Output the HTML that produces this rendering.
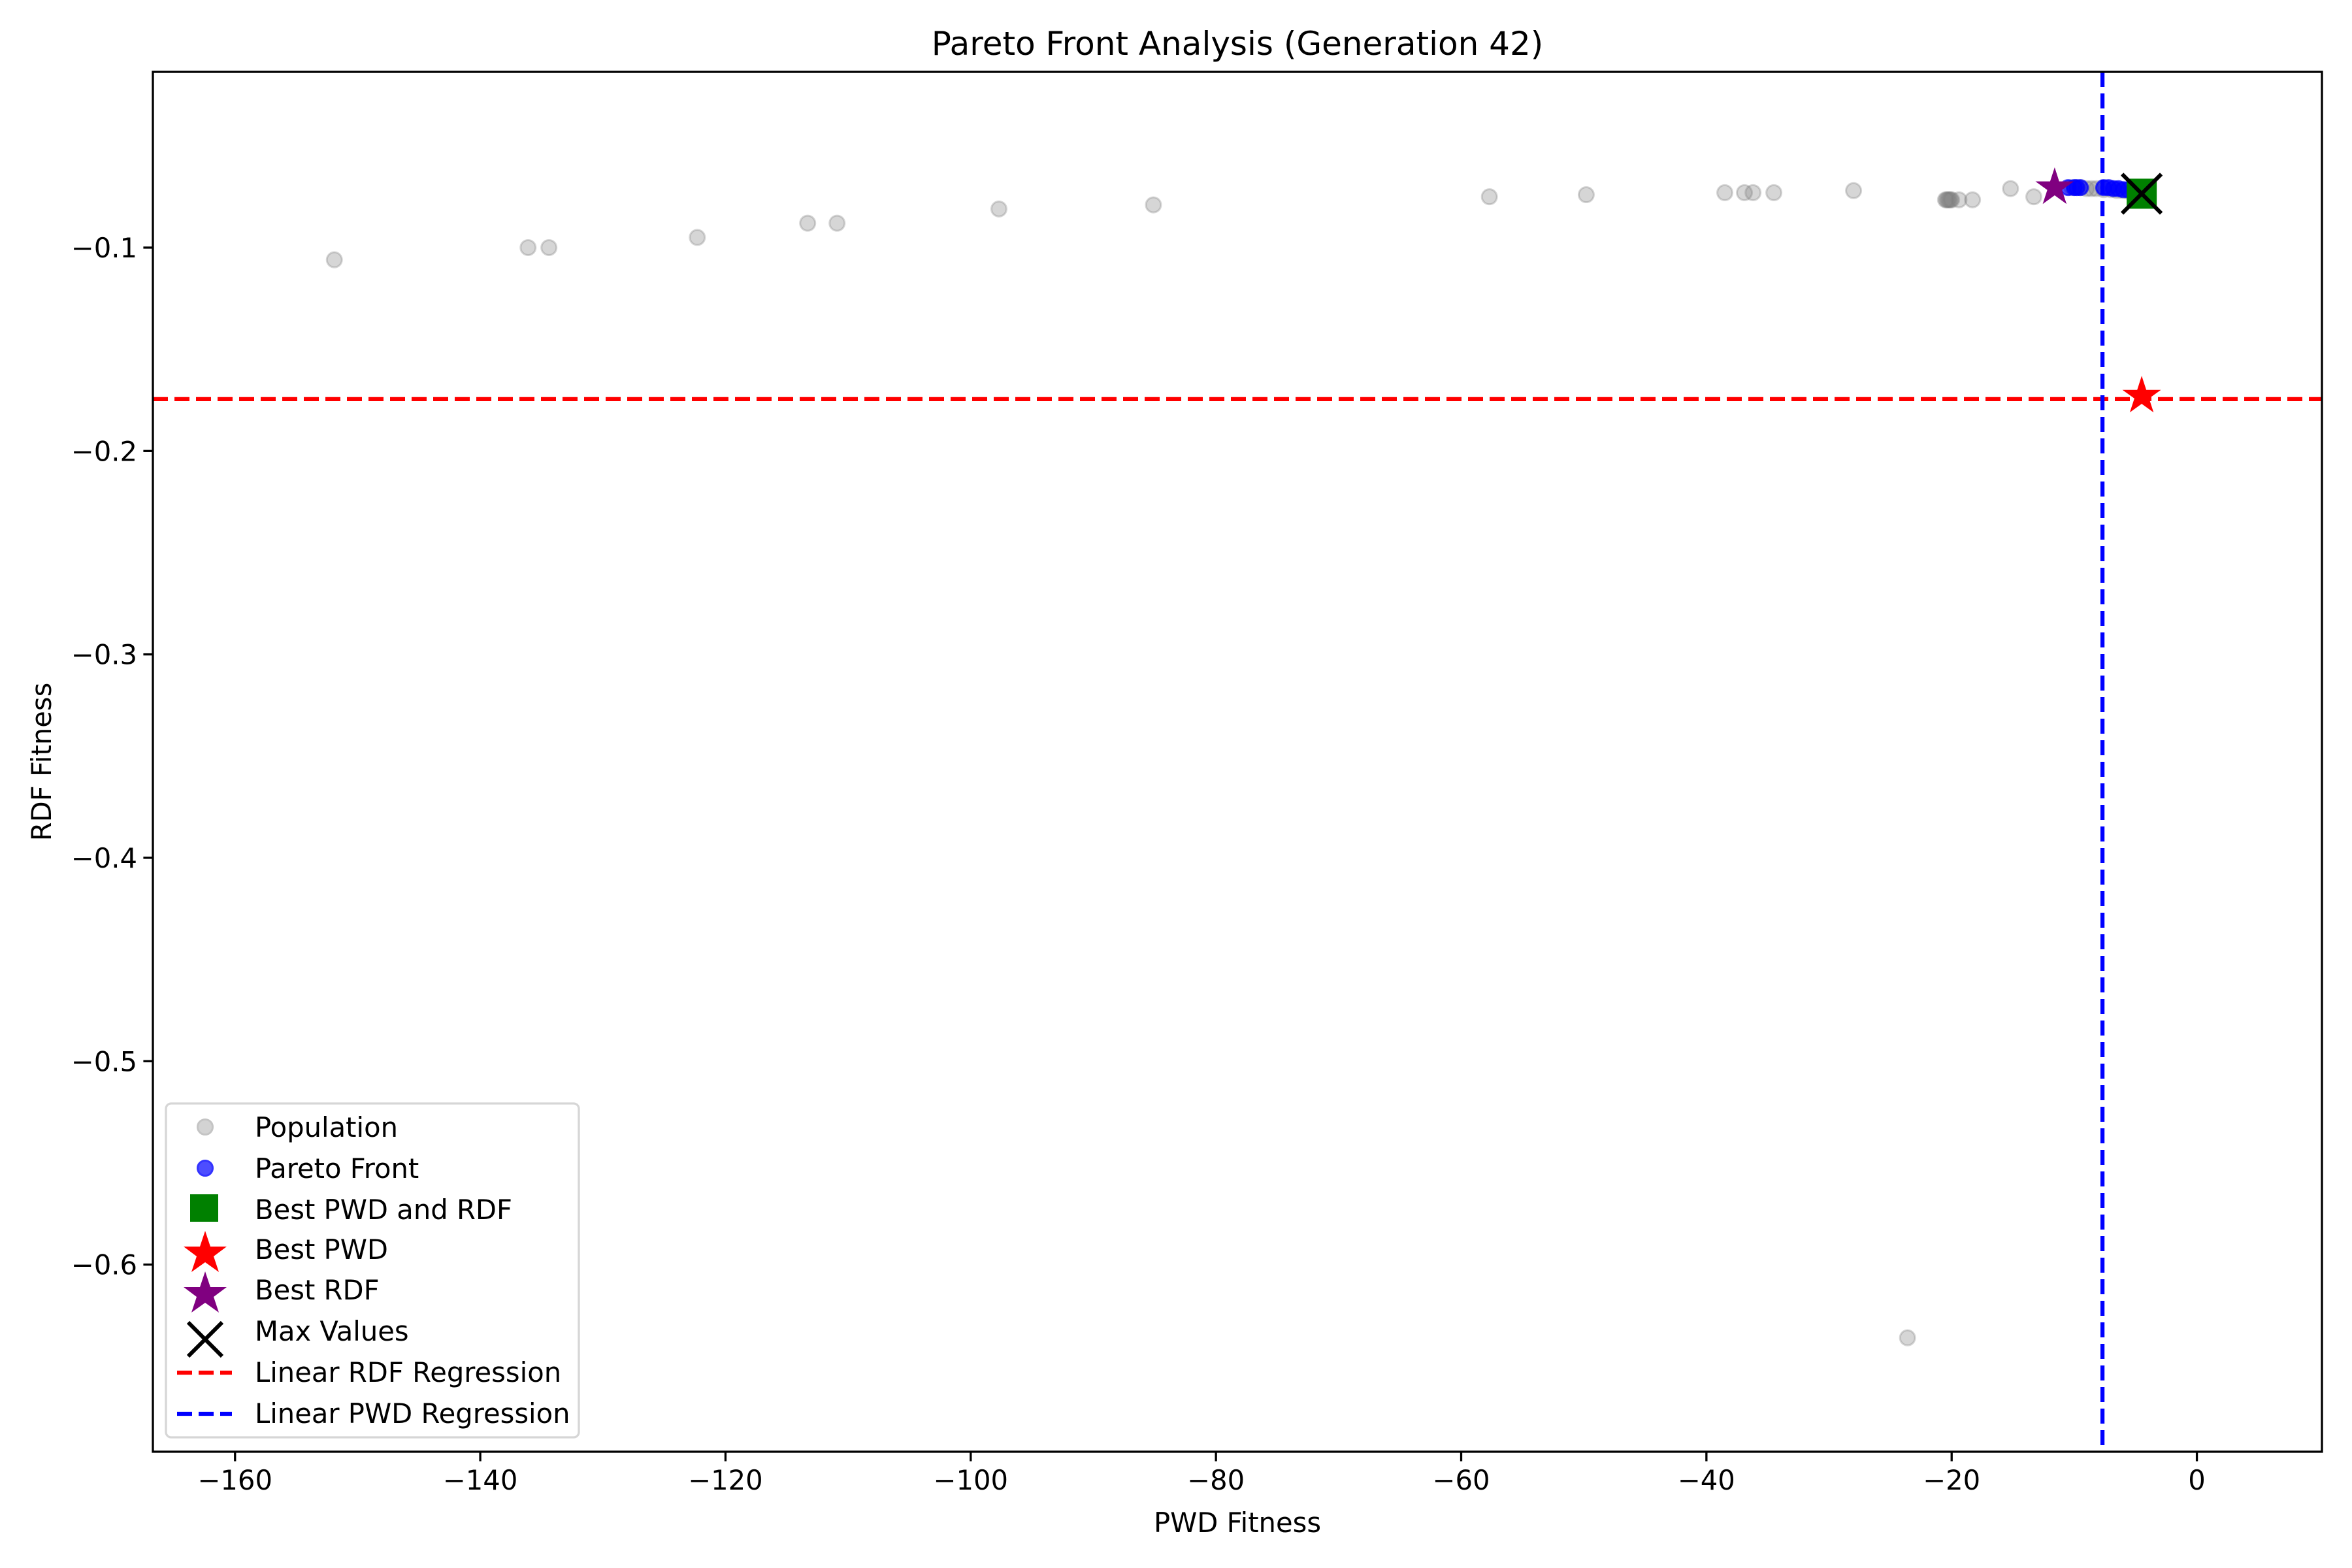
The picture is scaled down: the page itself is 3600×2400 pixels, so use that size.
<!DOCTYPE html>
<html><head><meta charset="utf-8"><style>
html,body{margin:0;padding:0;background:#fff;}
svg{display:block;font-family:"DejaVu Sans","Liberation Sans",sans-serif;}
</style></head><body>
<svg id="chart" width="3600" height="2400" viewBox="0 0 3600 2400" xmlns="http://www.w3.org/2000/svg"></svg>
<script>
const popX = [-151.9,-136.1,-134.4,-122.3,-113.3,-110.9,-97.7,-85.1,-57.7,-49.8,-38.5,-36.9,-36.2,-34.5,-28.0,-23.6,-20.5,-20.4,-20.3,-20.2,-20.1,-20.0,-19.4,-18.3,-15.2,-13.3,-10.2,-9.5,-9.0,-8.6,-8.2,-7.6,-7.0,-6.5,-6.0,-5.5,-5.0];
const popY = [-0.106,-0.100,-0.100,-0.095,-0.088,-0.088,-0.081,-0.079,-0.075,-0.074,-0.073,-0.073,-0.073,-0.073,-0.072,-0.636,-0.0765,-0.0765,-0.0765,-0.0765,-0.0765,-0.0765,-0.0765,-0.0765,-0.071,-0.075,-0.0705,-0.0705,-0.071,-0.071,-0.071,-0.0715,-0.0715,-0.072,-0.072,-0.0725,-0.073];
const paretoX = [-10.5,-10.0,-9.8,-9.5,-7.6,-7.2,-6.8,-6.4,-6.0,-5.6,-5.2,-4.8];
const paretoY = [-0.0705,-0.0705,-0.0705,-0.0705,-0.0705,-0.0705,-0.071,-0.071,-0.0715,-0.0715,-0.072,-0.0725];
const bestBoth = [-4.5, -0.0735];
const bestPWD = [-4.5, -0.173];
const bestRDF = [-11.6, -0.0705];
const maxVals = [-4.5, -0.0735];
const rdfRegY = -0.1745;
const pwdRegX = -7.7;
const xTicks = [-160,-140,-120,-100,-80,-60,-40,-20,0];
const yTicks = [-0.1,-0.2,-0.3,-0.4,-0.5,-0.6];
const yTickLabels = ["\u22120.1","\u22120.2","\u22120.3","\u22120.4","\u22120.5","\u22120.6"];

const L=234,R=3554,T=110,B=2222;
const xMin=-166.7,xMax=10.2,yMin=-0.692,yMax=-0.0136;
const sx=v=>L+(v-xMin)/(xMax-xMin)*(R-L);
const sy=v=>B-(v-yMin)/(yMax-yMin)*(B-T);
const NS="http://www.w3.org/2000/svg";
const svg=document.getElementById('chart');
function el(tag,attrs,parent){const e=document.createElementNS(NS,tag);for(const k in attrs)e.setAttribute(k,attrs[k]);(parent||svg).appendChild(e);return e;}
function starPts(cx,cy,r){let p=[];for(let i=0;i<10;i++){const a=-Math.PI/2+i*Math.PI/5;const rr=i%2?r*0.382:r;p.push((cx+rr*Math.cos(a)).toFixed(1)+','+(cy+rr*Math.sin(a)).toFixed(1));}return p.join(' ');}

el('rect',{x:0,y:0,width:3600,height:2400,fill:'#fff'});
const clip=el('clipPath',{id:'clip'});el('rect',{x:L,y:T,width:R-L,height:B-T},clip);
const plot=el('g',{'clip-path':'url(#clip)'});

popX.forEach((x,i)=>{const c=el('circle',{cx:sx(x),cy:sy(popY[i]),r:11.5,fill:'#808080','fill-opacity':0.32,stroke:'#808080','stroke-opacity':0.32,'stroke-width':3},plot);

});
paretoX.forEach((x,i)=>{const c=el('circle',{cx:sx(x),cy:sy(paretoY[i]),r:11.5,fill:'#0000ff','fill-opacity':0.7,stroke:'#0000ff','stroke-opacity':0.7,'stroke-width':3},plot);

});

let e;
e=el('rect',{x:sx(bestBoth[0])-23,y:sy(bestBoth[1])-23,width:46,height:46,fill:'#008000'},plot);


e=el('polygon',{points:starPts(sx(bestPWD[0]),sy(bestPWD[1]),31),fill:'#ff0000'},plot);


e=el('polygon',{points:starPts(sx(bestRDF[0]),sy(bestRDF[1]),31),fill:'#800080'},plot);


const mx=sx(maxVals[0]),my=sy(maxVals[1]);
e=el('path',{d:`M${mx-30},${my-30}L${mx+30},${my+30}M${mx-30},${my+30}L${mx+30},${my-30}`,stroke:'#000','stroke-width':6,fill:'none'},plot);


e=el('line',{x1:L,x2:R,y1:sy(rdfRegY),y2:sy(rdfRegY),stroke:'#ff0000','stroke-width':6.25,'stroke-dasharray':'23 10'},plot);


e=el('line',{x1:sx(pwdRegX),x2:sx(pwdRegX),y1:T,y2:B,stroke:'#0000ff','stroke-width':6.25,'stroke-dasharray':'23 10'},plot);



e=el('rect',{x:L,y:T,width:R-L,height:B-T,fill:'none',stroke:'#000','stroke-width':3.3});



xTicks.forEach(v=>{const x=sx(v);el('line',{x1:x,x2:x,y1:B,y2:B+14.6,stroke:'#000','stroke-width':3.3});
const t=el('text',{x:x,y:B+58,'font-size':41.7,'text-anchor':'middle'});t.textContent=(v<0?'\u2212':'')+Math.abs(v);

});
yTicks.forEach((v,i)=>{const y=sy(v);el('line',{x1:L-14.6,x2:L,y1:y,y2:y,stroke:'#000','stroke-width':3.3});
const t=el('text',{x:L-24,y:y+15,'font-size':41.7,'text-anchor':'end'});t.textContent=yTickLabels[i];

});
</script>
<svg width="3600" height="2400" style="position:absolute;left:0;top:0" xmlns="http://www.w3.org/2000/svg">
<g font-family="DejaVu Sans, Liberation Sans, sans-serif">
<text x="1894" y="84" font-size="50" text-anchor="middle">Pareto Front Analysis (Generation 42)</text>
<text x="1894" y="2345" font-size="41.7" text-anchor="middle">PWD Fitness</text>
<text x="78" y="1166" font-size="41.7" text-anchor="middle" transform="rotate(-90 78 1166)">RDF Fitness</text>
<g>
<rect x="254" y="1689" width="632" height="511" rx="8" fill="#fff" fill-opacity="0.8" stroke="#d6d6d6" stroke-width="3.3"/>
<circle cx="314" cy="1725" r="11.5" fill="#d3d3d3" stroke="#c4c4c4" stroke-width="3"/>
<text x="390" y="1740" font-size="41.7">Population</text>
<circle cx="314" cy="1788" r="11.5" fill="#4d4dff" stroke="#3333ff" stroke-width="3"/>
<text x="390" y="1803" font-size="41.7">Pareto Front</text>
<rect x="291" y="1828" width="43" height="42" fill="#008000"/>
<text x="390" y="1866" font-size="41.7">Best PWD and RDF</text>
<polygon points="314,1884 322,1908 347,1908 327,1923 335,1947 314,1932 293,1947 301,1923 281,1908 306,1908" fill="#ff0000"/>
<text x="390" y="1927" font-size="41.7">Best PWD</text>
<polygon points="314,1946 322,1970 347,1970 327,1985 335,2009 314,1994 293,2009 301,1985 281,1970 306,1970" fill="#800080"/>
<text x="390" y="1989" font-size="41.7">Best RDF</text>
<path d="M288,2024L340,2076M288,2076L340,2024" stroke="#000" stroke-width="6"/>
<text x="390" y="2052" font-size="41.7">Max Values</text>
<line x1="271" x2="355" y1="2101" y2="2101" stroke="#ff0000" stroke-width="6.25" stroke-dasharray="23 10"/>
<text x="390" y="2115" font-size="41.7">Linear RDF Regression</text>
<line x1="271" x2="355" y1="2164" y2="2164" stroke="#0000ff" stroke-width="6.25" stroke-dasharray="23 10"/>
<text x="390" y="2178" font-size="41.7">Linear PWD Regression</text>
</g>
</g>
</svg>
</body></html>
